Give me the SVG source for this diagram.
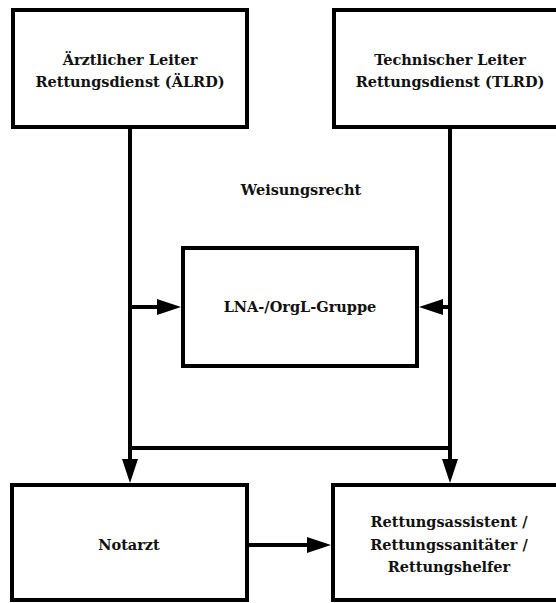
<svg xmlns="http://www.w3.org/2000/svg" width="556" height="603" viewBox="0 0 556 603">
  <style>
    .box { fill: #ffffff; stroke: #000000; stroke-width: 4; }
    .lbl { font-family: "DejaVu Serif", "Liberation Serif", serif; font-weight: bold; font-size: 14.5px; fill: #111111; text-anchor: middle; }
    .wire { fill: none; stroke: #000000; stroke-width: 4; }
  </style>
  <defs>
    <marker id="head" markerUnits="userSpaceOnUse" viewBox="0 0 24 16" markerWidth="24" markerHeight="16" refX="14" refY="8" orient="auto">
      <path d="M0,0 L24,8 L0,16 Z" fill="#000000"/>
    </marker>
  </defs>

  <rect width="556" height="603" fill="#ffffff"/>

  <g id="connectors">
    <path class="wire" d="M130,127 V473" marker-end="url(#head)"/>
    <path class="wire" d="M450,127 V473" marker-end="url(#head)"/>
    <path class="wire" d="M128,448 H452"/>
    <path class="wire" d="M130,307 H171" marker-end="url(#head)"/>
    <path class="wire" d="M450,307 H429" marker-end="url(#head)"/>
    <path class="wire" d="M249,545 H321" marker-end="url(#head)"/>
  </g>

  <g id="aelrd">
    <rect class="box" x="13" y="10" width="234" height="117"/>
    <text class="lbl" x="130" y="65">Ärztlicher Leiter</text>
    <text class="lbl" x="130" y="87">Rettungsdienst (ÄLRD)</text>
  </g>

  <g id="tlrd">
    <rect class="box" x="334" y="10" width="234" height="117"/>
    <text class="lbl" x="450" y="65">Technischer Leiter</text>
    <text class="lbl" x="450" y="87">Rettungsdienst (TLRD)</text>
  </g>

  <g id="weisungsrecht">
    <text class="lbl" x="301" y="195">Weisungsrecht</text>
  </g>

  <g id="lna-orgl">
    <rect class="box" x="183" y="248" width="234" height="118"/>
    <text class="lbl" x="300" y="312">LNA-/OrgL-Gruppe</text>
  </g>

  <g id="notarzt">
    <rect class="box" x="12" y="485" width="235" height="115"/>
    <text class="lbl" x="129" y="550">Notarzt</text>
  </g>

  <g id="rettungspersonal">
    <rect class="box" x="333" y="485" width="235" height="115"/>
    <text class="lbl" x="449" y="527">Rettungsassistent /</text>
    <text class="lbl" x="449" y="550">Rettungssanitäter /</text>
    <text class="lbl" x="449" y="572">Rettungshelfer</text>
  </g>
</svg>
